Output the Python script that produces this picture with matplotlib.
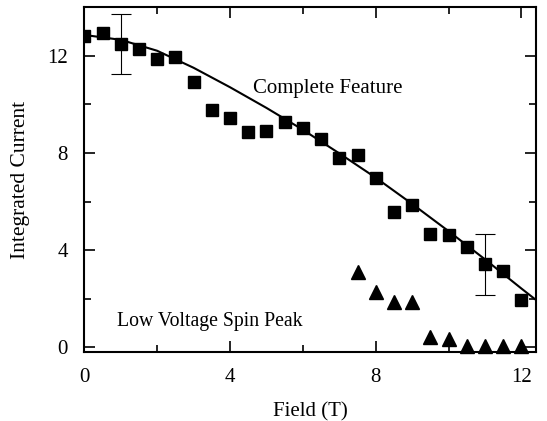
import numpy as np
import matplotlib.pyplot as plt
from matplotlib.ticker import MultipleLocator

plt.rcParams['font.family'] = ['Liberation Serif', 'DejaVu Serif']

# complete feature (squares)
field_sq = [0.0, 0.5, 1.0, 1.5, 2.0, 2.5, 3.0, 3.5, 4.0, 4.5, 5.0, 5.5, 6.0,
            6.5, 7.0, 7.5, 8.0, 8.5, 9.0, 9.5, 10.0, 10.5, 11.0, 11.5, 12.0]
current_sq = [12.82, 12.94, 12.49, 12.29, 11.88, 11.96, 10.93, 9.78, 9.45, 8.84, 8.88, 9.25, 9.01,
              8.58, 7.80, 7.93, 6.98, 5.55, 5.85, 4.68, 4.62, 4.12, 3.43, 3.15, 1.95]

# low voltage spin peak (triangles)
field_tri = [7.5, 8.0, 8.5, 9.0, 9.5, 10.0, 10.5, 11.0, 11.5, 12.0]
current_tri = [3.11, 2.29, 1.88, 1.88, 0.44, 0.34, 0.05, 0.05, 0.05, 0.05]

# fit curve
field_fit = [0, 1, 2, 3, 4, 5, 6, 7, 8, 9, 10, 11, 12, 12.4]
current_fit = [12.85, 12.65, 12.2, 11.5, 10.7, 9.85, 8.95, 7.98, 6.98, 5.9, 4.78, 3.62, 2.42, 1.95]

# representative error bars
err_x = [1.0, 11.0]
err_y = [12.48, 3.42]
err_size = [1.23, 1.26]

fig = plt.figure(figsize=(5.47, 4.21), dpi=100)
ax = fig.add_axes([0.1541, 0.1632, 0.8259, 0.8202])

ax.plot(field_fit, current_fit, color='black', lw=1.5, zorder=2)
ax.errorbar(err_x, err_y, yerr=err_size, fmt='none', ecolor='black',
            elinewidth=0.8, capsize=7, capthick=0.8, zorder=1)
ax.plot(field_sq, current_sq, 's', color='black', ms=9, zorder=3)
ax.plot(field_tri, current_tri, '^', color='black', ms=10, zorder=3, clip_on=False)

ax.text(6.68, 10.65, 'Complete Feature', ha='center', va='center', fontsize=15)
ax.text(0.9, 1.05, 'Low Voltage Spin Peak', ha='left', va='center', fontsize=14.2)

ax.set_xlim(0, 12.4)
ax.set_ylim(-0.2, 14)
ax.xaxis.set_major_locator(MultipleLocator(4))
ax.xaxis.set_minor_locator(MultipleLocator(2))
ax.yaxis.set_major_locator(MultipleLocator(4))
ax.yaxis.set_minor_locator(MultipleLocator(2))
ax.tick_params(which='both', direction='in', top=True, right=True, width=1.2,
               labelsize=15)
ax.tick_params(which='major', length=8)
ax.tick_params(which='minor', length=5)
ax.tick_params(axis='x', pad=11)
ax.tick_params(axis='y', pad=12)
for s in ax.spines.values():
    s.set_linewidth(1.5)

ax.set_xlabel('Field (T)', fontsize=15, labelpad=11)
ax.set_ylabel('Integrated Current', fontsize=15.5, labelpad=12)

fig.savefig('out.png', dpi=100)
